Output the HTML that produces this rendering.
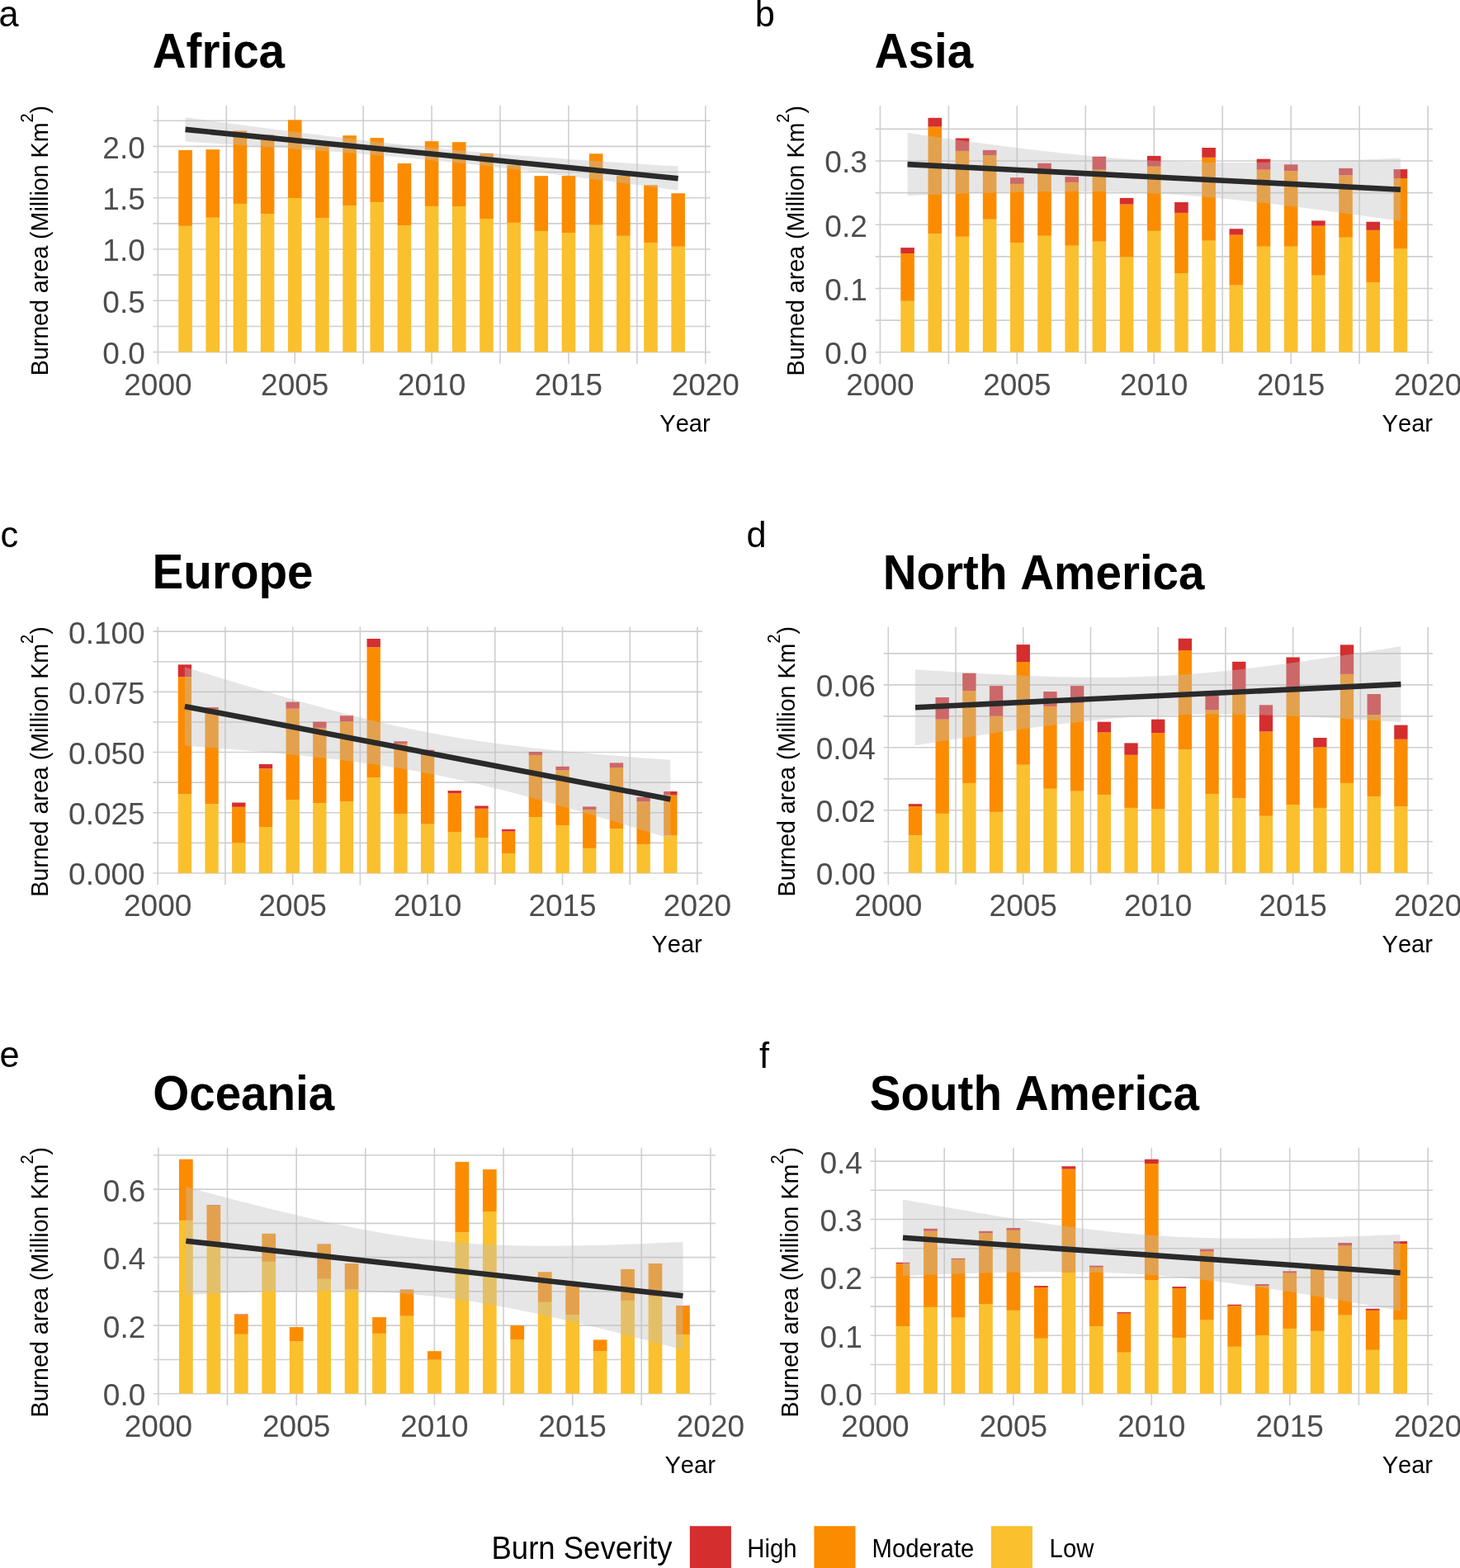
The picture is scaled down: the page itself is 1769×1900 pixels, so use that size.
<!DOCTYPE html>
<html><head><meta charset="utf-8"><title>Burned area by continent</title>
<style>html,body{margin:0;padding:0;background:#fff;} svg{display:block;} text{font-kerning:none;font-feature-settings:'kern' 0;}</style>
</head><body>
<svg width="1769" height="1900" viewBox="0 0 1769 1900" font-family="'Liberation Sans', Arial, sans-serif"><g stroke="#CFCFCF" stroke-width="1.6"><line x1="185.60" y1="395.45" x2="860.60" y2="395.45"/><line x1="185.60" y1="333.15" x2="860.60" y2="333.15"/><line x1="185.60" y1="270.85" x2="860.60" y2="270.85"/><line x1="185.60" y1="208.55" x2="860.60" y2="208.55"/><line x1="185.60" y1="146.25" x2="860.60" y2="146.25"/><line x1="185.60" y1="426.60" x2="860.60" y2="426.60"/><line x1="185.60" y1="364.30" x2="860.60" y2="364.30"/><line x1="185.60" y1="302.00" x2="860.60" y2="302.00"/><line x1="185.60" y1="239.70" x2="860.60" y2="239.70"/><line x1="185.60" y1="177.40" x2="860.60" y2="177.40"/><line x1="191.40" y1="128.10" x2="191.40" y2="440.81"/><line x1="274.33" y1="128.10" x2="274.33" y2="440.81"/><line x1="357.25" y1="128.10" x2="357.25" y2="440.81"/><line x1="440.18" y1="128.10" x2="440.18" y2="440.81"/><line x1="523.10" y1="128.10" x2="523.10" y2="440.81"/><line x1="606.02" y1="128.10" x2="606.02" y2="440.81"/><line x1="688.95" y1="128.10" x2="688.95" y2="440.81"/><line x1="771.88" y1="128.10" x2="771.88" y2="440.81"/><line x1="854.80" y1="128.10" x2="854.80" y2="440.81"/></g>
<g><rect x="216.28" y="273.84" width="16.59" height="152.76" fill="#FAC02E"/><rect x="216.28" y="181.89" width="16.59" height="91.95" fill="#FB8C00"/><rect x="249.45" y="263.75" width="16.59" height="162.85" fill="#FAC02E"/><rect x="249.45" y="181.14" width="16.59" height="82.61" fill="#FB8C00"/><rect x="282.62" y="246.93" width="16.59" height="179.67" fill="#FAC02E"/><rect x="282.62" y="158.46" width="16.59" height="88.47" fill="#FB8C00"/><rect x="315.79" y="259.26" width="16.59" height="167.34" fill="#FAC02E"/><rect x="315.79" y="163.20" width="16.59" height="96.07" fill="#FB8C00"/><rect x="348.96" y="239.95" width="16.59" height="186.65" fill="#FAC02E"/><rect x="348.96" y="145.38" width="16.59" height="94.57" fill="#FB8C00"/><rect x="382.13" y="264.12" width="16.59" height="162.48" fill="#FAC02E"/><rect x="382.13" y="177.40" width="16.59" height="86.72" fill="#FB8C00"/><rect x="415.30" y="249.17" width="16.59" height="177.43" fill="#FAC02E"/><rect x="415.30" y="164.19" width="16.59" height="84.98" fill="#FB8C00"/><rect x="448.47" y="244.93" width="16.59" height="181.67" fill="#FAC02E"/><rect x="448.47" y="167.06" width="16.59" height="77.88" fill="#FB8C00"/><rect x="481.64" y="273.22" width="16.59" height="153.38" fill="#FAC02E"/><rect x="481.64" y="197.96" width="16.59" height="75.26" fill="#FB8C00"/><rect x="514.81" y="249.92" width="16.59" height="176.68" fill="#FAC02E"/><rect x="514.81" y="171.17" width="16.59" height="78.75" fill="#FB8C00"/><rect x="547.98" y="250.04" width="16.59" height="176.56" fill="#FAC02E"/><rect x="547.98" y="172.17" width="16.59" height="77.87" fill="#FB8C00"/><rect x="581.15" y="264.99" width="16.59" height="161.61" fill="#FAC02E"/><rect x="581.15" y="185.87" width="16.59" height="79.12" fill="#FB8C00"/><rect x="614.32" y="269.85" width="16.59" height="156.75" fill="#FAC02E"/><rect x="614.32" y="200.08" width="16.59" height="69.78" fill="#FB8C00"/><rect x="647.49" y="279.95" width="16.59" height="146.65" fill="#FAC02E"/><rect x="647.49" y="213.16" width="16.59" height="66.79" fill="#FB8C00"/><rect x="680.66" y="282.19" width="16.59" height="144.41" fill="#FAC02E"/><rect x="680.66" y="213.04" width="16.59" height="69.15" fill="#FB8C00"/><rect x="713.83" y="272.72" width="16.59" height="153.88" fill="#FAC02E"/><rect x="713.83" y="186.25" width="16.59" height="86.47" fill="#FB8C00"/><rect x="747.00" y="285.80" width="16.59" height="140.80" fill="#FAC02E"/><rect x="747.00" y="213.04" width="16.59" height="72.77" fill="#FB8C00"/><rect x="780.17" y="294.15" width="16.59" height="132.45" fill="#FAC02E"/><rect x="780.17" y="224.25" width="16.59" height="69.90" fill="#FB8C00"/><rect x="813.34" y="298.76" width="16.59" height="127.84" fill="#FAC02E"/><rect x="813.34" y="234.22" width="16.59" height="64.54" fill="#FB8C00"/></g>
<path d="M224.57,142.30 L232.03,143.31 L239.50,144.31 L246.96,145.31 L254.42,146.31 L261.89,147.31 L269.35,148.31 L276.81,149.30 L284.28,150.29 L291.74,151.28 L299.20,152.27 L306.67,153.25 L314.13,154.23 L321.59,155.20 L329.06,156.17 L336.52,157.14 L343.98,158.10 L351.45,159.06 L358.91,160.01 L366.37,160.96 L373.84,161.90 L381.30,162.84 L388.76,163.77 L396.22,164.69 L403.69,165.61 L411.15,166.52 L418.61,167.42 L426.08,168.31 L433.54,169.19 L441.00,170.07 L448.47,170.93 L455.93,171.79 L463.39,172.63 L470.86,173.46 L478.32,174.29 L485.78,175.10 L493.25,175.89 L500.71,176.68 L508.17,177.45 L515.64,178.21 L523.10,178.96 L530.56,179.69 L538.03,180.42 L545.49,181.13 L552.95,181.82 L560.42,182.51 L567.88,183.18 L575.34,183.84 L582.81,184.49 L590.27,185.13 L597.73,185.76 L605.20,186.37 L612.66,186.98 L620.12,187.58 L627.59,188.17 L635.05,188.75 L642.51,189.33 L649.98,189.89 L657.44,190.45 L664.90,191.01 L672.37,191.55 L679.83,192.09 L687.29,192.63 L694.75,193.16 L702.22,193.68 L709.68,194.20 L717.14,194.72 L724.61,195.23 L732.07,195.74 L739.53,196.24 L747.00,196.74 L754.46,197.24 L761.92,197.73 L769.39,198.23 L776.85,198.71 L784.31,199.20 L791.78,199.68 L799.24,200.17 L806.70,200.65 L814.17,201.12 L821.63,201.60 L821.63,230.80 L814.17,229.79 L806.70,228.79 L799.24,227.79 L791.78,226.79 L784.31,225.79 L776.85,224.79 L769.39,223.80 L761.92,222.81 L754.46,221.82 L747.00,220.83 L739.53,219.85 L732.07,218.87 L724.61,217.90 L717.14,216.93 L709.68,215.96 L702.22,215.00 L694.75,214.04 L687.29,213.09 L679.83,212.14 L672.37,211.20 L664.90,210.26 L657.44,209.33 L649.98,208.41 L642.51,207.49 L635.05,206.58 L627.59,205.68 L620.12,204.79 L612.66,203.91 L605.20,203.03 L597.73,202.17 L590.27,201.31 L582.81,200.47 L575.34,199.64 L567.88,198.81 L560.42,198.00 L552.95,197.21 L545.49,196.42 L538.03,195.65 L530.56,194.89 L523.10,194.14 L515.64,193.41 L508.17,192.68 L500.71,191.97 L493.25,191.28 L485.78,190.59 L478.32,189.92 L470.86,189.26 L463.39,188.61 L455.93,187.97 L448.47,187.34 L441.00,186.73 L433.54,186.12 L426.08,185.52 L418.61,184.93 L411.15,184.35 L403.69,183.77 L396.22,183.21 L388.76,182.65 L381.30,182.09 L373.84,181.55 L366.37,181.01 L358.91,180.47 L351.45,179.94 L343.98,179.42 L336.52,178.90 L329.06,178.38 L321.59,177.87 L314.13,177.36 L306.67,176.86 L299.20,176.36 L291.74,175.86 L284.28,175.37 L276.81,174.87 L269.35,174.39 L261.89,173.90 L254.42,173.42 L246.96,172.93 L239.50,172.45 L232.03,171.98 L224.57,171.50 Z" fill="#C1C1C1" fill-opacity="0.4"/>
<line x1="224.57" y1="156.90" x2="821.63" y2="216.20" stroke="#2A2A2A" stroke-width="6.6"/>
<g fill="#4D4D4D"><text transform="translate(175.80,441.05) scale(1,1.012)" font-size="37.0" text-anchor="end">0.0</text><text transform="translate(175.80,378.75) scale(1,1.012)" font-size="37.0" text-anchor="end">0.5</text><text transform="translate(175.80,316.45) scale(1,1.012)" font-size="37.0" text-anchor="end">1.0</text><text transform="translate(175.80,254.15) scale(1,1.012)" font-size="37.0" text-anchor="end">1.5</text><text transform="translate(175.80,191.85) scale(1,1.012)" font-size="37.0" text-anchor="end">2.0</text><text transform="translate(191.40,478.91) scale(1,1.012)" font-size="37.0" text-anchor="middle">2000</text><text transform="translate(357.25,478.91) scale(1,1.012)" font-size="37.0" text-anchor="middle">2005</text><text transform="translate(523.10,478.91) scale(1,1.012)" font-size="37.0" text-anchor="middle">2010</text><text transform="translate(688.95,478.91) scale(1,1.012)" font-size="37.0" text-anchor="middle">2015</text><text transform="translate(854.80,478.91) scale(1,1.012)" font-size="37.0" text-anchor="middle">2020</text></g>
<text transform="translate(860.70,522.71) scale(1,1.03)" font-size="29.1" text-anchor="end">Year</text>
<text transform="translate(58.00,455.31) rotate(-90) scale(1,1.06)" font-size="28.6">Burned area (Million Km<tspan font-size="20" dy="-17">2</tspan><tspan dy="17">)</tspan></text>
<text transform="translate(184.70,81.90) scale(1,1.035)" font-size="56.6" font-weight="bold">Africa</text>
<text transform="translate(-1.40,32.30) scale(1,1.03)" font-size="43.3">a</text>
<g stroke="#CFCFCF" stroke-width="1.6"><line x1="1060.59" y1="388.08" x2="1735.91" y2="388.08"/><line x1="1060.59" y1="310.86" x2="1735.91" y2="310.86"/><line x1="1060.59" y1="233.62" x2="1735.91" y2="233.62"/><line x1="1060.59" y1="156.40" x2="1735.91" y2="156.40"/><line x1="1060.59" y1="426.70" x2="1735.91" y2="426.70"/><line x1="1060.59" y1="349.47" x2="1735.91" y2="349.47"/><line x1="1060.59" y1="272.24" x2="1735.91" y2="272.24"/><line x1="1060.59" y1="195.01" x2="1735.91" y2="195.01"/><line x1="1066.40" y1="128.30" x2="1066.40" y2="440.91"/><line x1="1149.36" y1="128.30" x2="1149.36" y2="440.91"/><line x1="1232.33" y1="128.30" x2="1232.33" y2="440.91"/><line x1="1315.29" y1="128.30" x2="1315.29" y2="440.91"/><line x1="1398.25" y1="128.30" x2="1398.25" y2="440.91"/><line x1="1481.21" y1="128.30" x2="1481.21" y2="440.91"/><line x1="1564.18" y1="128.30" x2="1564.18" y2="440.91"/><line x1="1647.14" y1="128.30" x2="1647.14" y2="440.91"/><line x1="1730.10" y1="128.30" x2="1730.10" y2="440.91"/></g>
<g><rect x="1091.29" y="364.76" width="16.59" height="61.94" fill="#FAC02E"/><rect x="1091.29" y="306.99" width="16.59" height="57.77" fill="#FB8C00"/><rect x="1091.29" y="300.12" width="16.59" height="6.87" fill="#D42E2F"/><rect x="1124.47" y="283.21" width="16.59" height="143.49" fill="#FAC02E"/><rect x="1124.47" y="153.61" width="16.59" height="129.59" fill="#FB8C00"/><rect x="1124.47" y="142.80" width="16.59" height="10.81" fill="#D42E2F"/><rect x="1157.66" y="286.84" width="16.59" height="139.86" fill="#FAC02E"/><rect x="1157.66" y="182.88" width="16.59" height="103.95" fill="#FB8C00"/><rect x="1157.66" y="167.52" width="16.59" height="15.37" fill="#D42E2F"/><rect x="1190.84" y="265.75" width="16.59" height="160.95" fill="#FAC02E"/><rect x="1190.84" y="188.29" width="16.59" height="77.46" fill="#FB8C00"/><rect x="1190.84" y="181.88" width="16.59" height="6.41" fill="#D42E2F"/><rect x="1224.03" y="294.10" width="16.59" height="132.60" fill="#FAC02E"/><rect x="1224.03" y="222.89" width="16.59" height="71.21" fill="#FB8C00"/><rect x="1224.03" y="215.17" width="16.59" height="7.72" fill="#D42E2F"/><rect x="1257.21" y="285.76" width="16.59" height="140.94" fill="#FAC02E"/><rect x="1257.21" y="205.05" width="16.59" height="80.71" fill="#FB8C00"/><rect x="1257.21" y="197.79" width="16.59" height="7.26" fill="#D42E2F"/><rect x="1290.40" y="297.73" width="16.59" height="128.97" fill="#FAC02E"/><rect x="1290.40" y="220.88" width="16.59" height="76.84" fill="#FB8C00"/><rect x="1290.40" y="214.16" width="16.59" height="6.72" fill="#D42E2F"/><rect x="1323.58" y="292.71" width="16.59" height="133.99" fill="#FAC02E"/><rect x="1323.58" y="205.67" width="16.59" height="87.04" fill="#FB8C00"/><rect x="1323.58" y="189.76" width="16.59" height="15.91" fill="#D42E2F"/><rect x="1356.77" y="311.47" width="16.59" height="115.23" fill="#FAC02E"/><rect x="1356.77" y="247.60" width="16.59" height="63.87" fill="#FB8C00"/><rect x="1356.77" y="239.88" width="16.59" height="7.72" fill="#D42E2F"/><rect x="1389.95" y="279.89" width="16.59" height="146.81" fill="#FAC02E"/><rect x="1389.95" y="201.73" width="16.59" height="78.16" fill="#FB8C00"/><rect x="1389.95" y="188.91" width="16.59" height="12.82" fill="#D42E2F"/><rect x="1423.14" y="331.09" width="16.59" height="95.61" fill="#FAC02E"/><rect x="1423.14" y="257.88" width="16.59" height="73.21" fill="#FB8C00"/><rect x="1423.14" y="245.06" width="16.59" height="12.82" fill="#D42E2F"/><rect x="1456.32" y="291.70" width="16.59" height="135.00" fill="#FAC02E"/><rect x="1456.32" y="190.84" width="16.59" height="100.86" fill="#FB8C00"/><rect x="1456.32" y="179.02" width="16.59" height="11.82" fill="#D42E2F"/><rect x="1489.51" y="345.61" width="16.59" height="81.09" fill="#FAC02E"/><rect x="1489.51" y="284.60" width="16.59" height="61.01" fill="#FB8C00"/><rect x="1489.51" y="277.26" width="16.59" height="7.34" fill="#D42E2F"/><rect x="1522.69" y="298.73" width="16.59" height="127.97" fill="#FAC02E"/><rect x="1522.69" y="205.67" width="16.59" height="93.06" fill="#FB8C00"/><rect x="1522.69" y="192.62" width="16.59" height="13.05" fill="#D42E2F"/><rect x="1555.88" y="298.73" width="16.59" height="127.97" fill="#FAC02E"/><rect x="1555.88" y="207.29" width="16.59" height="91.44" fill="#FB8C00"/><rect x="1555.88" y="199.33" width="16.59" height="7.95" fill="#D42E2F"/><rect x="1589.06" y="333.72" width="16.59" height="92.98" fill="#FAC02E"/><rect x="1589.06" y="273.71" width="16.59" height="60.01" fill="#FB8C00"/><rect x="1589.06" y="267.37" width="16.59" height="6.33" fill="#D42E2F"/><rect x="1622.25" y="287.76" width="16.59" height="138.94" fill="#FAC02E"/><rect x="1622.25" y="212.39" width="16.59" height="75.38" fill="#FB8C00"/><rect x="1622.25" y="203.89" width="16.59" height="8.50" fill="#D42E2F"/><rect x="1655.43" y="341.98" width="16.59" height="84.72" fill="#FAC02E"/><rect x="1655.43" y="278.88" width="16.59" height="63.10" fill="#FB8C00"/><rect x="1655.43" y="268.76" width="16.59" height="10.12" fill="#D42E2F"/><rect x="1688.62" y="301.59" width="16.59" height="125.11" fill="#FAC02E"/><rect x="1688.62" y="216.02" width="16.59" height="85.57" fill="#FB8C00"/><rect x="1688.62" y="205.13" width="16.59" height="10.89" fill="#D42E2F"/></g>
<path d="M1099.59,161.00 L1107.05,162.08 L1114.52,163.15 L1121.98,164.21 L1129.45,165.27 L1136.92,166.33 L1144.38,167.38 L1151.85,168.42 L1159.32,169.46 L1166.78,170.48 L1174.25,171.50 L1181.72,172.51 L1189.18,173.52 L1196.65,174.51 L1204.12,175.49 L1211.58,176.46 L1219.05,177.43 L1226.52,178.37 L1233.98,179.31 L1241.45,180.23 L1248.92,181.14 L1256.38,182.03 L1263.85,182.91 L1271.32,183.77 L1278.78,184.61 L1286.25,185.43 L1293.72,186.23 L1301.18,187.01 L1308.65,187.76 L1316.12,188.49 L1323.58,189.20 L1331.05,189.88 L1338.52,190.53 L1345.98,191.15 L1353.45,191.75 L1360.92,192.31 L1368.38,192.84 L1375.85,193.34 L1383.32,193.81 L1390.78,194.24 L1398.25,194.64 L1405.72,195.01 L1413.18,195.34 L1420.65,195.64 L1428.12,195.91 L1435.58,196.15 L1443.05,196.35 L1450.52,196.53 L1457.98,196.67 L1465.45,196.79 L1472.92,196.87 L1480.38,196.94 L1487.85,196.97 L1495.32,196.98 L1502.78,196.97 L1510.25,196.94 L1517.72,196.89 L1525.18,196.81 L1532.65,196.72 L1540.12,196.62 L1547.58,196.49 L1555.05,196.35 L1562.52,196.19 L1569.98,196.03 L1577.45,195.85 L1584.92,195.65 L1592.38,195.45 L1599.85,195.23 L1607.32,195.01 L1614.78,194.77 L1622.25,194.53 L1629.72,194.28 L1637.18,194.02 L1644.65,193.75 L1652.12,193.47 L1659.58,193.19 L1667.05,192.90 L1674.52,192.61 L1681.98,192.31 L1689.45,192.01 L1696.92,191.70 L1696.92,267.90 L1689.45,266.82 L1681.98,265.75 L1674.52,264.69 L1667.05,263.63 L1659.58,262.57 L1652.12,261.52 L1644.65,260.48 L1637.18,259.44 L1629.72,258.42 L1622.25,257.40 L1614.78,256.39 L1607.32,255.38 L1599.85,254.39 L1592.38,253.41 L1584.92,252.44 L1577.45,251.47 L1569.98,250.53 L1562.52,249.59 L1555.05,248.67 L1547.58,247.76 L1540.12,246.87 L1532.65,245.99 L1525.18,245.13 L1517.72,244.29 L1510.25,243.47 L1502.78,242.67 L1495.32,241.89 L1487.85,241.14 L1480.38,240.41 L1472.92,239.70 L1465.45,239.02 L1457.98,238.37 L1450.52,237.75 L1443.05,237.15 L1435.58,236.59 L1428.12,236.06 L1420.65,235.56 L1413.18,235.09 L1405.72,234.66 L1398.25,234.26 L1390.78,233.89 L1383.32,233.56 L1375.85,233.26 L1368.38,232.99 L1360.92,232.75 L1353.45,232.55 L1345.98,232.37 L1338.52,232.23 L1331.05,232.11 L1323.58,232.03 L1316.12,231.96 L1308.65,231.93 L1301.18,231.92 L1293.72,231.93 L1286.25,231.96 L1278.78,232.01 L1271.32,232.09 L1263.85,232.18 L1256.38,232.28 L1248.92,232.41 L1241.45,232.55 L1233.98,232.71 L1226.52,232.87 L1219.05,233.05 L1211.58,233.25 L1204.12,233.45 L1196.65,233.67 L1189.18,233.89 L1181.72,234.13 L1174.25,234.37 L1166.78,234.62 L1159.32,234.88 L1151.85,235.15 L1144.38,235.43 L1136.92,235.71 L1129.45,236.00 L1121.98,236.29 L1114.52,236.59 L1107.05,236.89 L1099.59,237.20 Z" fill="#C1C1C1" fill-opacity="0.4"/>
<line x1="1099.59" y1="199.10" x2="1696.92" y2="229.80" stroke="#2A2A2A" stroke-width="6.6"/>
<g fill="#4D4D4D"><text transform="translate(1050.79,441.15) scale(1,1.012)" font-size="37.0" text-anchor="end">0.0</text><text transform="translate(1050.79,363.92) scale(1,1.012)" font-size="37.0" text-anchor="end">0.1</text><text transform="translate(1050.79,286.69) scale(1,1.012)" font-size="37.0" text-anchor="end">0.2</text><text transform="translate(1050.79,209.46) scale(1,1.012)" font-size="37.0" text-anchor="end">0.3</text><text transform="translate(1066.40,479.01) scale(1,1.012)" font-size="37.0" text-anchor="middle">2000</text><text transform="translate(1232.33,479.01) scale(1,1.012)" font-size="37.0" text-anchor="middle">2005</text><text transform="translate(1398.25,479.01) scale(1,1.012)" font-size="37.0" text-anchor="middle">2010</text><text transform="translate(1564.18,479.01) scale(1,1.012)" font-size="37.0" text-anchor="middle">2015</text><text transform="translate(1730.10,479.01) scale(1,1.012)" font-size="37.0" text-anchor="middle">2020</text></g>
<text transform="translate(1736.01,522.81) scale(1,1.03)" font-size="29.1" text-anchor="end">Year</text>
<text transform="translate(974.00,455.41) rotate(-90) scale(1,1.06)" font-size="28.6">Burned area (Million Km<tspan font-size="20" dy="-17">2</tspan><tspan dy="17">)</tspan></text>
<text transform="translate(1059.69,82.10) scale(1,1.035)" font-size="56.6" font-weight="bold">Asia</text>
<text transform="translate(914.80,32.10) scale(1,1.03)" font-size="43.3">b</text>
<g stroke="#CFCFCF" stroke-width="1.6"><line x1="185.48" y1="1021.39" x2="850.72" y2="1021.39"/><line x1="185.48" y1="948.17" x2="850.72" y2="948.17"/><line x1="185.48" y1="874.95" x2="850.72" y2="874.95"/><line x1="185.48" y1="801.73" x2="850.72" y2="801.73"/><line x1="185.48" y1="1058.00" x2="850.72" y2="1058.00"/><line x1="185.48" y1="984.78" x2="850.72" y2="984.78"/><line x1="185.48" y1="911.56" x2="850.72" y2="911.56"/><line x1="185.48" y1="838.34" x2="850.72" y2="838.34"/><line x1="185.48" y1="765.12" x2="850.72" y2="765.12"/><line x1="191.20" y1="759.50" x2="191.20" y2="1072.21"/><line x1="272.92" y1="759.50" x2="272.92" y2="1072.21"/><line x1="354.65" y1="759.50" x2="354.65" y2="1072.21"/><line x1="436.38" y1="759.50" x2="436.38" y2="1072.21"/><line x1="518.10" y1="759.50" x2="518.10" y2="1072.21"/><line x1="599.83" y1="759.50" x2="599.83" y2="1072.21"/><line x1="681.55" y1="759.50" x2="681.55" y2="1072.21"/><line x1="763.27" y1="759.50" x2="763.27" y2="1072.21"/><line x1="845.00" y1="759.50" x2="845.00" y2="1072.21"/></g>
<g><rect x="215.72" y="962.40" width="16.34" height="95.60" fill="#FAC02E"/><rect x="215.72" y="820.09" width="16.34" height="142.31" fill="#FB8C00"/><rect x="215.72" y="805.30" width="16.34" height="14.79" fill="#D42E2F"/><rect x="248.41" y="974.09" width="16.34" height="83.91" fill="#FAC02E"/><rect x="248.41" y="859.13" width="16.34" height="114.96" fill="#FB8C00"/><rect x="248.41" y="857.08" width="16.34" height="2.05" fill="#D42E2F"/><rect x="281.10" y="1021.39" width="16.34" height="36.61" fill="#FAC02E"/><rect x="281.10" y="977.81" width="16.34" height="43.58" fill="#FB8C00"/><rect x="281.10" y="972.51" width="16.34" height="5.30" fill="#D42E2F"/><rect x="313.79" y="1002.00" width="16.34" height="56.00" fill="#FAC02E"/><rect x="313.79" y="931.30" width="16.34" height="70.70" fill="#FB8C00"/><rect x="313.79" y="926.00" width="16.34" height="5.30" fill="#D42E2F"/><rect x="346.48" y="969.29" width="16.34" height="88.71" fill="#FAC02E"/><rect x="346.48" y="858.70" width="16.34" height="110.59" fill="#FB8C00"/><rect x="346.48" y="850.61" width="16.34" height="8.08" fill="#D42E2F"/><rect x="379.17" y="973.09" width="16.34" height="84.91" fill="#FAC02E"/><rect x="379.17" y="881.89" width="16.34" height="91.20" fill="#FB8C00"/><rect x="379.17" y="874.60" width="16.34" height="7.29" fill="#D42E2F"/><rect x="411.86" y="971.31" width="16.34" height="86.69" fill="#FAC02E"/><rect x="411.86" y="874.39" width="16.34" height="96.91" fill="#FB8C00"/><rect x="411.86" y="867.19" width="16.34" height="7.20" fill="#D42E2F"/><rect x="444.55" y="942.20" width="16.34" height="115.80" fill="#FAC02E"/><rect x="444.55" y="784.30" width="16.34" height="157.89" fill="#FB8C00"/><rect x="444.55" y="773.99" width="16.34" height="10.31" fill="#D42E2F"/><rect x="477.24" y="986.39" width="16.34" height="71.61" fill="#FAC02E"/><rect x="477.24" y="901.10" width="16.34" height="85.29" fill="#FB8C00"/><rect x="477.24" y="898.29" width="16.34" height="2.81" fill="#D42E2F"/><rect x="509.93" y="998.60" width="16.34" height="59.40" fill="#FAC02E"/><rect x="509.93" y="910.21" width="16.34" height="88.39" fill="#FB8C00"/><rect x="509.93" y="908.63" width="16.34" height="1.58" fill="#D42E2F"/><rect x="542.62" y="1008.09" width="16.34" height="49.91" fill="#FAC02E"/><rect x="542.62" y="961.41" width="16.34" height="46.69" fill="#FB8C00"/><rect x="542.62" y="958.10" width="16.34" height="3.31" fill="#D42E2F"/><rect x="575.31" y="1015.01" width="16.34" height="42.99" fill="#FAC02E"/><rect x="575.31" y="979.80" width="16.34" height="35.20" fill="#FB8C00"/><rect x="575.31" y="976.49" width="16.34" height="3.31" fill="#D42E2F"/><rect x="608.00" y="1034.19" width="16.34" height="23.81" fill="#FAC02E"/><rect x="608.00" y="1007.51" width="16.34" height="26.68" fill="#FB8C00"/><rect x="608.00" y="1004.90" width="16.34" height="2.61" fill="#D42E2F"/><rect x="640.69" y="990.11" width="16.34" height="67.89" fill="#FAC02E"/><rect x="640.69" y="914.90" width="16.34" height="75.21" fill="#FB8C00"/><rect x="640.69" y="911.00" width="16.34" height="3.90" fill="#D42E2F"/><rect x="673.38" y="1000.21" width="16.34" height="57.79" fill="#FAC02E"/><rect x="673.38" y="933.29" width="16.34" height="66.92" fill="#FB8C00"/><rect x="673.38" y="928.81" width="16.34" height="4.48" fill="#D42E2F"/><rect x="706.07" y="1027.89" width="16.34" height="30.11" fill="#FAC02E"/><rect x="706.07" y="981.21" width="16.34" height="46.69" fill="#FB8C00"/><rect x="706.07" y="977.40" width="16.34" height="3.81" fill="#D42E2F"/><rect x="738.76" y="1004.20" width="16.34" height="53.80" fill="#FAC02E"/><rect x="738.76" y="930.01" width="16.34" height="74.19" fill="#FB8C00"/><rect x="738.76" y="924.39" width="16.34" height="5.62" fill="#D42E2F"/><rect x="771.45" y="1022.91" width="16.34" height="35.09" fill="#FAC02E"/><rect x="771.45" y="971.31" width="16.34" height="51.61" fill="#FB8C00"/><rect x="771.45" y="966.01" width="16.34" height="5.30" fill="#D42E2F"/><rect x="804.14" y="1012.52" width="16.34" height="45.48" fill="#FAC02E"/><rect x="804.14" y="963.60" width="16.34" height="48.91" fill="#FB8C00"/><rect x="804.14" y="959.01" width="16.34" height="4.60" fill="#D42E2F"/></g>
<path d="M223.89,808.20 L231.25,810.48 L238.60,812.75 L245.96,815.01 L253.31,817.27 L260.67,819.51 L268.02,821.76 L275.38,823.99 L282.73,826.21 L290.09,828.43 L297.44,830.63 L304.80,832.83 L312.15,835.01 L319.51,837.18 L326.86,839.34 L334.22,841.49 L341.57,843.62 L348.93,845.73 L356.28,847.83 L363.64,849.92 L371.00,851.98 L378.35,854.03 L385.71,856.05 L393.06,858.05 L400.42,860.04 L407.77,861.99 L415.13,863.92 L422.48,865.82 L429.84,867.70 L437.19,869.54 L444.55,871.35 L451.90,873.13 L459.26,874.88 L466.61,876.59 L473.97,878.26 L481.32,879.89 L488.68,881.48 L496.03,883.04 L503.39,884.55 L510.74,886.02 L518.10,887.45 L525.46,888.84 L532.81,890.19 L540.17,891.49 L547.52,892.75 L554.88,893.98 L562.23,895.16 L569.59,896.31 L576.94,897.42 L584.30,898.49 L591.65,899.53 L599.01,900.53 L606.36,901.51 L613.72,902.45 L621.07,903.37 L628.43,904.25 L635.78,905.12 L643.14,905.95 L650.49,906.77 L657.85,907.56 L665.20,908.33 L672.56,909.08 L679.92,909.82 L687.27,910.54 L694.63,911.24 L701.98,911.92 L709.34,912.59 L716.69,913.25 L724.05,913.90 L731.40,914.53 L738.76,915.16 L746.11,915.77 L753.47,916.37 L760.82,916.97 L768.18,917.55 L775.53,918.13 L782.89,918.70 L790.24,919.26 L797.60,919.81 L804.95,920.36 L812.31,920.90 L812.31,1016.30 L804.95,1014.02 L797.60,1011.75 L790.24,1009.49 L782.89,1007.23 L775.53,1004.99 L768.18,1002.74 L760.82,1000.51 L753.47,998.29 L746.11,996.07 L738.76,993.87 L731.40,991.67 L724.05,989.49 L716.69,987.32 L709.34,985.16 L701.98,983.01 L694.63,980.88 L687.27,978.77 L679.92,976.67 L672.56,974.58 L665.20,972.52 L657.85,970.47 L650.49,968.45 L643.14,966.45 L635.78,964.46 L628.43,962.51 L621.07,960.58 L613.72,958.68 L606.36,956.80 L599.01,954.96 L591.65,953.15 L584.30,951.37 L576.94,949.62 L569.59,947.91 L562.23,946.24 L554.88,944.61 L547.52,943.02 L540.17,941.46 L532.81,939.95 L525.46,938.48 L518.10,937.05 L510.74,935.66 L503.39,934.31 L496.03,933.01 L488.68,931.75 L481.32,930.52 L473.97,929.34 L466.61,928.19 L459.26,927.08 L451.90,926.01 L444.55,924.97 L437.19,923.97 L429.84,922.99 L422.48,922.05 L415.13,921.13 L407.77,920.25 L400.42,919.38 L393.06,918.55 L385.71,917.73 L378.35,916.94 L371.00,916.17 L363.64,915.42 L356.28,914.68 L348.93,913.96 L341.57,913.26 L334.22,912.58 L326.86,911.91 L319.51,911.25 L312.15,910.60 L304.80,909.97 L297.44,909.34 L290.09,908.73 L282.73,908.13 L275.38,907.53 L268.02,906.95 L260.67,906.37 L253.31,905.80 L245.96,905.24 L238.60,904.69 L231.25,904.14 L223.89,903.60 Z" fill="#C1C1C1" fill-opacity="0.4"/>
<line x1="223.89" y1="855.90" x2="812.31" y2="968.60" stroke="#2A2A2A" stroke-width="6.6"/>
<g fill="#4D4D4D"><text transform="translate(175.68,1072.45) scale(1,1.012)" font-size="37.0" text-anchor="end">0.000</text><text transform="translate(175.68,999.23) scale(1,1.012)" font-size="37.0" text-anchor="end">0.025</text><text transform="translate(175.68,926.01) scale(1,1.012)" font-size="37.0" text-anchor="end">0.050</text><text transform="translate(175.68,852.79) scale(1,1.012)" font-size="37.0" text-anchor="end">0.075</text><text transform="translate(175.68,779.57) scale(1,1.012)" font-size="37.0" text-anchor="end">0.100</text><text transform="translate(191.20,1110.31) scale(1,1.012)" font-size="37.0" text-anchor="middle">2000</text><text transform="translate(354.65,1110.31) scale(1,1.012)" font-size="37.0" text-anchor="middle">2005</text><text transform="translate(518.10,1110.31) scale(1,1.012)" font-size="37.0" text-anchor="middle">2010</text><text transform="translate(681.55,1110.31) scale(1,1.012)" font-size="37.0" text-anchor="middle">2015</text><text transform="translate(845.00,1110.31) scale(1,1.012)" font-size="37.0" text-anchor="middle">2020</text></g>
<text transform="translate(850.82,1154.11) scale(1,1.03)" font-size="29.1" text-anchor="end">Year</text>
<text transform="translate(58.00,1086.71) rotate(-90) scale(1,1.06)" font-size="28.6">Burned area (Million Km<tspan font-size="20" dy="-17">2</tspan><tspan dy="17">)</tspan></text>
<text transform="translate(184.58,713.30) scale(1,1.035)" font-size="56.6" font-weight="bold">Europe</text>
<text transform="translate(0.60,662.60) scale(1,1.03)" font-size="43.3">c</text>
<g stroke="#CFCFCF" stroke-width="1.6"><line x1="1070.58" y1="1019.73" x2="1735.82" y2="1019.73"/><line x1="1070.58" y1="943.79" x2="1735.82" y2="943.79"/><line x1="1070.58" y1="867.85" x2="1735.82" y2="867.85"/><line x1="1070.58" y1="791.91" x2="1735.82" y2="791.91"/><line x1="1070.58" y1="1057.70" x2="1735.82" y2="1057.70"/><line x1="1070.58" y1="981.76" x2="1735.82" y2="981.76"/><line x1="1070.58" y1="905.82" x2="1735.82" y2="905.82"/><line x1="1070.58" y1="829.88" x2="1735.82" y2="829.88"/><line x1="1076.30" y1="759.80" x2="1076.30" y2="1071.89"/><line x1="1158.02" y1="759.80" x2="1158.02" y2="1071.89"/><line x1="1239.75" y1="759.80" x2="1239.75" y2="1071.89"/><line x1="1321.47" y1="759.80" x2="1321.47" y2="1071.89"/><line x1="1403.20" y1="759.80" x2="1403.20" y2="1071.89"/><line x1="1484.92" y1="759.80" x2="1484.92" y2="1071.89"/><line x1="1566.65" y1="759.80" x2="1566.65" y2="1071.89"/><line x1="1648.38" y1="759.80" x2="1648.38" y2="1071.89"/><line x1="1730.10" y1="759.80" x2="1730.10" y2="1071.89"/></g>
<g><rect x="1100.82" y="1012.21" width="16.34" height="45.49" fill="#FAC02E"/><rect x="1100.82" y="977.01" width="16.34" height="35.20" fill="#FB8C00"/><rect x="1100.82" y="974.20" width="16.34" height="2.81" fill="#D42E2F"/><rect x="1133.51" y="985.90" width="16.34" height="71.80" fill="#FAC02E"/><rect x="1133.51" y="871.68" width="16.34" height="114.21" fill="#FB8C00"/><rect x="1133.51" y="844.99" width="16.34" height="26.69" fill="#D42E2F"/><rect x="1166.20" y="948.92" width="16.34" height="108.78" fill="#FAC02E"/><rect x="1166.20" y="837.09" width="16.34" height="111.82" fill="#FB8C00"/><rect x="1166.20" y="815.72" width="16.34" height="21.38" fill="#D42E2F"/><rect x="1198.89" y="983.89" width="16.34" height="73.81" fill="#FAC02E"/><rect x="1198.89" y="867.70" width="16.34" height="116.19" fill="#FB8C00"/><rect x="1198.89" y="831.10" width="16.34" height="36.60" fill="#D42E2F"/><rect x="1231.58" y="926.70" width="16.34" height="131.00" fill="#FAC02E"/><rect x="1231.58" y="802.01" width="16.34" height="124.69" fill="#FB8C00"/><rect x="1231.58" y="781.09" width="16.34" height="20.92" fill="#D42E2F"/><rect x="1264.27" y="955.79" width="16.34" height="101.91" fill="#FAC02E"/><rect x="1264.27" y="855.89" width="16.34" height="99.90" fill="#FB8C00"/><rect x="1264.27" y="838.01" width="16.34" height="17.88" fill="#D42E2F"/><rect x="1296.96" y="958.71" width="16.34" height="98.99" fill="#FAC02E"/><rect x="1296.96" y="851.90" width="16.34" height="106.81" fill="#FB8C00"/><rect x="1296.96" y="831.10" width="16.34" height="20.81" fill="#D42E2F"/><rect x="1329.65" y="963.12" width="16.34" height="94.58" fill="#FAC02E"/><rect x="1329.65" y="887.48" width="16.34" height="75.64" fill="#FB8C00"/><rect x="1329.65" y="874.68" width="16.34" height="12.80" fill="#D42E2F"/><rect x="1362.34" y="978.91" width="16.34" height="78.79" fill="#FAC02E"/><rect x="1362.34" y="914.78" width="16.34" height="64.13" fill="#FB8C00"/><rect x="1362.34" y="900.39" width="16.34" height="14.39" fill="#D42E2F"/><rect x="1395.03" y="980.51" width="16.34" height="77.19" fill="#FAC02E"/><rect x="1395.03" y="888.09" width="16.34" height="92.42" fill="#FB8C00"/><rect x="1395.03" y="871.68" width="16.34" height="16.40" fill="#D42E2F"/><rect x="1427.72" y="908.29" width="16.34" height="149.41" fill="#FAC02E"/><rect x="1427.72" y="788.00" width="16.34" height="120.29" fill="#FB8C00"/><rect x="1427.72" y="773.68" width="16.34" height="14.31" fill="#D42E2F"/><rect x="1460.41" y="962.09" width="16.34" height="95.61" fill="#FAC02E"/><rect x="1460.41" y="860.41" width="16.34" height="101.68" fill="#FB8C00"/><rect x="1460.41" y="842.98" width="16.34" height="17.43" fill="#D42E2F"/><rect x="1493.10" y="967.29" width="16.34" height="90.41" fill="#FAC02E"/><rect x="1493.10" y="837.47" width="16.34" height="129.82" fill="#FB8C00"/><rect x="1493.10" y="801.78" width="16.34" height="35.69" fill="#D42E2F"/><rect x="1525.79" y="988.78" width="16.34" height="68.92" fill="#FAC02E"/><rect x="1525.79" y="886.49" width="16.34" height="102.29" fill="#FB8C00"/><rect x="1525.79" y="854.29" width="16.34" height="32.20" fill="#D42E2F"/><rect x="1558.48" y="975.00" width="16.34" height="82.70" fill="#FAC02E"/><rect x="1558.48" y="833.68" width="16.34" height="141.32" fill="#FB8C00"/><rect x="1558.48" y="796.47" width="16.34" height="37.21" fill="#D42E2F"/><rect x="1591.17" y="978.91" width="16.34" height="78.79" fill="#FAC02E"/><rect x="1591.17" y="905.29" width="16.34" height="73.62" fill="#FB8C00"/><rect x="1591.17" y="894.01" width="16.34" height="11.28" fill="#D42E2F"/><rect x="1623.86" y="948.92" width="16.34" height="108.78" fill="#FAC02E"/><rect x="1623.86" y="816.89" width="16.34" height="132.02" fill="#FB8C00"/><rect x="1623.86" y="781.32" width="16.34" height="35.58" fill="#D42E2F"/><rect x="1656.55" y="965.09" width="16.34" height="92.61" fill="#FAC02E"/><rect x="1656.55" y="866.29" width="16.34" height="98.80" fill="#FB8C00"/><rect x="1656.55" y="841.01" width="16.34" height="25.29" fill="#D42E2F"/><rect x="1689.24" y="977.09" width="16.34" height="80.61" fill="#FAC02E"/><rect x="1689.24" y="895.80" width="16.34" height="81.29" fill="#FB8C00"/><rect x="1689.24" y="878.60" width="16.34" height="17.20" fill="#D42E2F"/></g>
<path d="M1108.99,811.20 L1116.35,811.69 L1123.70,812.16 L1131.06,812.64 L1138.41,813.10 L1145.77,813.56 L1153.12,814.01 L1160.48,814.46 L1167.83,814.89 L1175.19,815.32 L1182.54,815.73 L1189.90,816.14 L1197.25,816.54 L1204.61,816.92 L1211.96,817.29 L1219.32,817.65 L1226.67,818.00 L1234.03,818.33 L1241.38,818.64 L1248.74,818.94 L1256.10,819.22 L1263.45,819.49 L1270.81,819.73 L1278.16,819.95 L1285.52,820.15 L1292.87,820.33 L1300.23,820.48 L1307.58,820.61 L1314.94,820.70 L1322.29,820.77 L1329.65,820.81 L1337.00,820.81 L1344.36,820.79 L1351.71,820.73 L1359.07,820.63 L1366.42,820.49 L1373.78,820.32 L1381.13,820.11 L1388.49,819.86 L1395.84,819.57 L1403.20,819.24 L1410.56,818.86 L1417.91,818.45 L1425.27,818.00 L1432.62,817.51 L1439.98,816.98 L1447.33,816.41 L1454.69,815.81 L1462.04,815.17 L1469.40,814.49 L1476.75,813.78 L1484.11,813.04 L1491.46,812.27 L1498.82,811.47 L1506.17,810.65 L1513.53,809.79 L1520.88,808.91 L1528.24,808.01 L1535.59,807.09 L1542.95,806.14 L1550.30,805.17 L1557.66,804.19 L1565.02,803.19 L1572.37,802.17 L1579.73,801.14 L1587.08,800.09 L1594.44,799.03 L1601.79,797.95 L1609.15,796.87 L1616.50,795.77 L1623.86,794.66 L1631.21,793.54 L1638.57,792.41 L1645.92,791.27 L1653.28,790.13 L1660.63,788.97 L1667.99,787.81 L1675.34,786.64 L1682.70,785.47 L1690.05,784.29 L1697.41,783.10 L1697.41,875.10 L1690.05,874.61 L1682.70,874.14 L1675.34,873.66 L1667.99,873.20 L1660.63,872.74 L1653.28,872.29 L1645.92,871.84 L1638.57,871.41 L1631.21,870.98 L1623.86,870.57 L1616.50,870.16 L1609.15,869.76 L1601.79,869.38 L1594.44,869.01 L1587.08,868.65 L1579.73,868.30 L1572.37,867.97 L1565.02,867.66 L1557.66,867.36 L1550.30,867.08 L1542.95,866.81 L1535.59,866.57 L1528.24,866.35 L1520.88,866.15 L1513.53,865.97 L1506.17,865.82 L1498.82,865.69 L1491.46,865.60 L1484.11,865.53 L1476.75,865.49 L1469.40,865.49 L1462.04,865.51 L1454.69,865.57 L1447.33,865.67 L1439.98,865.81 L1432.62,865.98 L1425.27,866.19 L1417.91,866.44 L1410.56,866.73 L1403.20,867.06 L1395.84,867.44 L1388.49,867.85 L1381.13,868.30 L1373.78,868.79 L1366.42,869.32 L1359.07,869.89 L1351.71,870.49 L1344.36,871.13 L1337.00,871.81 L1329.65,872.52 L1322.29,873.26 L1314.94,874.03 L1307.58,874.83 L1300.23,875.65 L1292.87,876.51 L1285.52,877.39 L1278.16,878.29 L1270.81,879.21 L1263.45,880.16 L1256.10,881.13 L1248.74,882.11 L1241.38,883.11 L1234.03,884.13 L1226.67,885.16 L1219.32,886.21 L1211.96,887.27 L1204.61,888.35 L1197.25,889.43 L1189.90,890.53 L1182.54,891.64 L1175.19,892.76 L1167.83,893.89 L1160.48,895.03 L1153.12,896.17 L1145.77,897.33 L1138.41,898.49 L1131.06,899.66 L1123.70,900.83 L1116.35,902.01 L1108.99,903.20 Z" fill="#C1C1C1" fill-opacity="0.4"/>
<line x1="1108.99" y1="857.20" x2="1697.41" y2="829.10" stroke="#2A2A2A" stroke-width="6.6"/>
<g fill="#4D4D4D"><text transform="translate(1060.78,1072.15) scale(1,1.012)" font-size="37.0" text-anchor="end">0.00</text><text transform="translate(1060.78,996.21) scale(1,1.012)" font-size="37.0" text-anchor="end">0.02</text><text transform="translate(1060.78,920.27) scale(1,1.012)" font-size="37.0" text-anchor="end">0.04</text><text transform="translate(1060.78,844.33) scale(1,1.012)" font-size="37.0" text-anchor="end">0.06</text><text transform="translate(1076.30,1109.99) scale(1,1.012)" font-size="37.0" text-anchor="middle">2000</text><text transform="translate(1239.75,1109.99) scale(1,1.012)" font-size="37.0" text-anchor="middle">2005</text><text transform="translate(1403.20,1109.99) scale(1,1.012)" font-size="37.0" text-anchor="middle">2010</text><text transform="translate(1566.65,1109.99) scale(1,1.012)" font-size="37.0" text-anchor="middle">2015</text><text transform="translate(1730.10,1109.99) scale(1,1.012)" font-size="37.0" text-anchor="middle">2020</text></g>
<text transform="translate(1735.92,1153.79) scale(1,1.03)" font-size="29.1" text-anchor="end">Year</text>
<text transform="translate(963.00,1086.39) rotate(-90) scale(1,1.06)" font-size="28.6">Burned area (Million Km<tspan font-size="20" dy="-17">2</tspan><tspan dy="17">)</tspan></text>
<text transform="translate(1069.68,713.60) scale(1,1.035)" font-size="56.6" font-weight="bold">North America</text>
<text transform="translate(904.40,662.60) scale(1,1.03)" font-size="43.3">d</text>
<g stroke="#CFCFCF" stroke-width="1.6"><line x1="186.05" y1="1647.43" x2="866.75" y2="1647.43"/><line x1="186.05" y1="1564.89" x2="866.75" y2="1564.89"/><line x1="186.05" y1="1482.35" x2="866.75" y2="1482.35"/><line x1="186.05" y1="1399.81" x2="866.75" y2="1399.81"/><line x1="186.05" y1="1688.70" x2="866.75" y2="1688.70"/><line x1="186.05" y1="1606.16" x2="866.75" y2="1606.16"/><line x1="186.05" y1="1523.62" x2="866.75" y2="1523.62"/><line x1="186.05" y1="1441.08" x2="866.75" y2="1441.08"/><line x1="191.90" y1="1390.70" x2="191.90" y2="1702.89"/><line x1="275.52" y1="1390.70" x2="275.52" y2="1702.89"/><line x1="359.15" y1="1390.70" x2="359.15" y2="1702.89"/><line x1="442.78" y1="1390.70" x2="442.78" y2="1702.89"/><line x1="526.40" y1="1390.70" x2="526.40" y2="1702.89"/><line x1="610.03" y1="1390.70" x2="610.03" y2="1702.89"/><line x1="693.65" y1="1390.70" x2="693.65" y2="1702.89"/><line x1="777.27" y1="1390.70" x2="777.27" y2="1702.89"/><line x1="860.90" y1="1390.70" x2="860.90" y2="1702.89"/></g>
<g><rect x="216.99" y="1478.88" width="16.73" height="209.82" fill="#FAC02E"/><rect x="216.99" y="1404.68" width="16.73" height="74.20" fill="#FB8C00"/><rect x="250.44" y="1508.60" width="16.73" height="180.10" fill="#FAC02E"/><rect x="250.44" y="1460.68" width="16.73" height="47.91" fill="#FB8C00"/><rect x="250.44" y="1460.06" width="16.73" height="0.62" fill="#D42E2F"/><rect x="283.89" y="1616.81" width="16.73" height="71.89" fill="#FAC02E"/><rect x="283.89" y="1593.12" width="16.73" height="23.69" fill="#FB8C00"/><rect x="283.89" y="1592.54" width="16.73" height="0.58" fill="#D42E2F"/><rect x="317.34" y="1528.82" width="16.73" height="159.88" fill="#FAC02E"/><rect x="317.34" y="1494.81" width="16.73" height="34.01" fill="#FB8C00"/><rect x="350.79" y="1625.31" width="16.73" height="63.39" fill="#FAC02E"/><rect x="350.79" y="1608.10" width="16.73" height="17.21" fill="#FB8C00"/><rect x="384.24" y="1549.79" width="16.73" height="138.91" fill="#FAC02E"/><rect x="384.24" y="1507.98" width="16.73" height="41.81" fill="#FB8C00"/><rect x="384.24" y="1507.52" width="16.73" height="0.45" fill="#D42E2F"/><rect x="417.69" y="1562.41" width="16.73" height="126.29" fill="#FAC02E"/><rect x="417.69" y="1531.01" width="16.73" height="31.41" fill="#FB8C00"/><rect x="451.14" y="1615.90" width="16.73" height="72.80" fill="#FAC02E"/><rect x="451.14" y="1596.09" width="16.73" height="19.81" fill="#FB8C00"/><rect x="484.59" y="1594.69" width="16.73" height="94.01" fill="#FAC02E"/><rect x="484.59" y="1562.99" width="16.73" height="31.70" fill="#FB8C00"/><rect x="484.59" y="1562.62" width="16.73" height="0.37" fill="#D42E2F"/><rect x="518.04" y="1647.51" width="16.73" height="41.19" fill="#FAC02E"/><rect x="518.04" y="1637.20" width="16.73" height="10.32" fill="#FB8C00"/><rect x="551.49" y="1493.20" width="16.73" height="195.50" fill="#FAC02E"/><rect x="551.49" y="1407.90" width="16.73" height="85.31" fill="#FB8C00"/><rect x="584.94" y="1467.99" width="16.73" height="220.71" fill="#FAC02E"/><rect x="584.94" y="1417.02" width="16.73" height="50.97" fill="#FB8C00"/><rect x="618.39" y="1623.41" width="16.73" height="65.29" fill="#FAC02E"/><rect x="618.39" y="1606.20" width="16.73" height="17.21" fill="#FB8C00"/><rect x="651.84" y="1577.89" width="16.73" height="110.81" fill="#FAC02E"/><rect x="651.84" y="1541.28" width="16.73" height="36.61" fill="#FB8C00"/><rect x="685.29" y="1593.28" width="16.73" height="95.42" fill="#FAC02E"/><rect x="685.29" y="1554.57" width="16.73" height="38.71" fill="#FB8C00"/><rect x="718.74" y="1637.20" width="16.73" height="51.50" fill="#FAC02E"/><rect x="718.74" y="1623.41" width="16.73" height="13.78" fill="#FB8C00"/><rect x="752.19" y="1575.91" width="16.73" height="112.79" fill="#FAC02E"/><rect x="752.19" y="1537.90" width="16.73" height="38.01" fill="#FB8C00"/><rect x="785.64" y="1570.92" width="16.73" height="117.78" fill="#FAC02E"/><rect x="785.64" y="1531.01" width="16.73" height="39.91" fill="#FB8C00"/><rect x="819.09" y="1617.01" width="16.73" height="71.69" fill="#FAC02E"/><rect x="819.09" y="1582.80" width="16.73" height="34.21" fill="#FB8C00"/><rect x="819.09" y="1582.22" width="16.73" height="0.58" fill="#D42E2F"/></g>
<path d="M225.35,1438.30 L232.88,1440.32 L240.40,1442.33 L247.93,1444.34 L255.46,1446.33 L262.98,1448.32 L270.51,1450.29 L278.03,1452.25 L285.56,1454.20 L293.09,1456.14 L300.61,1458.07 L308.14,1459.98 L315.67,1461.87 L323.19,1463.75 L330.72,1465.61 L338.24,1467.45 L345.77,1469.27 L353.30,1471.08 L360.82,1472.86 L368.35,1474.61 L375.88,1476.35 L383.40,1478.05 L390.93,1479.73 L398.45,1481.38 L405.98,1482.99 L413.51,1484.58 L421.03,1486.12 L428.56,1487.63 L436.08,1489.10 L443.61,1490.53 L451.14,1491.92 L458.66,1493.26 L466.19,1494.55 L473.72,1495.79 L481.24,1496.99 L488.77,1498.13 L496.29,1499.21 L503.82,1500.25 L511.35,1501.22 L518.87,1502.14 L526.40,1503.00 L533.93,1503.80 L541.45,1504.55 L548.98,1505.24 L556.51,1505.87 L564.03,1506.45 L571.56,1506.98 L579.08,1507.45 L586.61,1507.87 L594.14,1508.24 L601.66,1508.57 L609.19,1508.85 L616.72,1509.08 L624.24,1509.28 L631.77,1509.43 L639.29,1509.55 L646.82,1509.63 L654.35,1509.68 L661.87,1509.70 L669.40,1509.69 L676.93,1509.65 L684.45,1509.58 L691.98,1509.49 L699.50,1509.37 L707.03,1509.23 L714.56,1509.08 L722.08,1508.90 L729.61,1508.70 L737.13,1508.49 L744.66,1508.26 L752.19,1508.02 L759.71,1507.76 L767.24,1507.48 L774.77,1507.20 L782.29,1506.90 L789.82,1506.59 L797.34,1506.27 L804.87,1505.94 L812.40,1505.60 L819.92,1505.26 L827.45,1504.90 L827.45,1635.70 L819.92,1633.68 L812.40,1631.67 L804.87,1629.66 L797.34,1627.67 L789.82,1625.68 L782.29,1623.71 L774.77,1621.75 L767.24,1619.80 L759.71,1617.86 L752.19,1615.93 L744.66,1614.02 L737.13,1612.13 L729.61,1610.25 L722.08,1608.39 L714.56,1606.55 L707.03,1604.73 L699.50,1602.92 L691.98,1601.14 L684.45,1599.39 L676.93,1597.65 L669.40,1595.95 L661.87,1594.27 L654.35,1592.62 L646.82,1591.01 L639.29,1589.42 L631.77,1587.88 L624.24,1586.37 L616.72,1584.90 L609.19,1583.47 L601.66,1582.08 L594.14,1580.74 L586.61,1579.45 L579.08,1578.21 L571.56,1577.01 L564.03,1575.87 L556.51,1574.79 L548.98,1573.75 L541.45,1572.78 L533.93,1571.86 L526.40,1571.00 L518.87,1570.20 L511.35,1569.45 L503.82,1568.76 L496.29,1568.13 L488.77,1567.55 L481.24,1567.02 L473.72,1566.55 L466.19,1566.13 L458.66,1565.76 L451.14,1565.43 L443.61,1565.15 L436.08,1564.92 L428.56,1564.72 L421.03,1564.57 L413.51,1564.45 L405.98,1564.37 L398.45,1564.32 L390.93,1564.30 L383.40,1564.31 L375.88,1564.35 L368.35,1564.42 L360.82,1564.51 L353.30,1564.63 L345.77,1564.77 L338.24,1564.92 L330.72,1565.10 L323.19,1565.30 L315.67,1565.51 L308.14,1565.74 L300.61,1565.98 L293.09,1566.24 L285.56,1566.52 L278.03,1566.80 L270.51,1567.10 L262.98,1567.41 L255.46,1567.73 L247.93,1568.06 L240.40,1568.40 L232.88,1568.74 L225.35,1569.10 Z" fill="#C1C1C1" fill-opacity="0.4"/>
<line x1="225.35" y1="1503.70" x2="827.45" y2="1570.30" stroke="#2A2A2A" stroke-width="6.6"/>
<g fill="#4D4D4D"><text transform="translate(176.25,1703.15) scale(1,1.012)" font-size="37.0" text-anchor="end">0.0</text><text transform="translate(176.25,1620.61) scale(1,1.012)" font-size="37.0" text-anchor="end">0.2</text><text transform="translate(176.25,1538.07) scale(1,1.012)" font-size="37.0" text-anchor="end">0.4</text><text transform="translate(176.25,1455.53) scale(1,1.012)" font-size="37.0" text-anchor="end">0.6</text><text transform="translate(191.90,1740.99) scale(1,1.012)" font-size="37.0" text-anchor="middle">2000</text><text transform="translate(359.15,1740.99) scale(1,1.012)" font-size="37.0" text-anchor="middle">2005</text><text transform="translate(526.40,1740.99) scale(1,1.012)" font-size="37.0" text-anchor="middle">2010</text><text transform="translate(693.65,1740.99) scale(1,1.012)" font-size="37.0" text-anchor="middle">2015</text><text transform="translate(860.90,1740.99) scale(1,1.012)" font-size="37.0" text-anchor="middle">2020</text></g>
<text transform="translate(866.85,1784.79) scale(1,1.03)" font-size="29.1" text-anchor="end">Year</text>
<text transform="translate(58.00,1717.39) rotate(-90) scale(1,1.06)" font-size="28.6">Burned area (Million Km<tspan font-size="20" dy="-17">2</tspan><tspan dy="17">)</tspan></text>
<text transform="translate(185.15,1344.50) scale(1,1.035)" font-size="56.6" font-weight="bold">Oceania</text>
<text transform="translate(-0.40,1293.40) scale(1,1.03)" font-size="43.3">e</text>
<g stroke="#CFCFCF" stroke-width="1.6"><line x1="1054.64" y1="1653.50" x2="1735.96" y2="1653.50"/><line x1="1054.64" y1="1583.10" x2="1735.96" y2="1583.10"/><line x1="1054.64" y1="1512.70" x2="1735.96" y2="1512.70"/><line x1="1054.64" y1="1442.30" x2="1735.96" y2="1442.30"/><line x1="1054.64" y1="1688.70" x2="1735.96" y2="1688.70"/><line x1="1054.64" y1="1618.30" x2="1735.96" y2="1618.30"/><line x1="1054.64" y1="1547.90" x2="1735.96" y2="1547.90"/><line x1="1054.64" y1="1477.50" x2="1735.96" y2="1477.50"/><line x1="1054.64" y1="1407.10" x2="1735.96" y2="1407.10"/><line x1="1060.50" y1="1390.70" x2="1060.50" y2="1702.89"/><line x1="1144.20" y1="1390.70" x2="1144.20" y2="1702.89"/><line x1="1227.90" y1="1390.70" x2="1227.90" y2="1702.89"/><line x1="1311.60" y1="1390.70" x2="1311.60" y2="1702.89"/><line x1="1395.30" y1="1390.70" x2="1395.30" y2="1702.89"/><line x1="1479.00" y1="1390.70" x2="1479.00" y2="1702.89"/><line x1="1562.70" y1="1390.70" x2="1562.70" y2="1702.89"/><line x1="1646.40" y1="1390.70" x2="1646.40" y2="1702.89"/><line x1="1730.10" y1="1390.70" x2="1730.10" y2="1702.89"/></g>
<g><rect x="1085.61" y="1607.11" width="16.74" height="81.59" fill="#FAC02E"/><rect x="1085.61" y="1531.43" width="16.74" height="75.68" fill="#FB8C00"/><rect x="1085.61" y="1529.81" width="16.74" height="1.62" fill="#D42E2F"/><rect x="1119.09" y="1583.80" width="16.74" height="104.90" fill="#FAC02E"/><rect x="1119.09" y="1491.79" width="16.74" height="92.01" fill="#FB8C00"/><rect x="1119.09" y="1488.76" width="16.74" height="3.03" fill="#D42E2F"/><rect x="1152.57" y="1596.69" width="16.74" height="92.01" fill="#FAC02E"/><rect x="1152.57" y="1526.43" width="16.74" height="70.26" fill="#FB8C00"/><rect x="1152.57" y="1524.81" width="16.74" height="1.62" fill="#D42E2F"/><rect x="1186.05" y="1580.21" width="16.74" height="108.49" fill="#FAC02E"/><rect x="1186.05" y="1494.40" width="16.74" height="85.82" fill="#FB8C00"/><rect x="1186.05" y="1491.79" width="16.74" height="2.60" fill="#D42E2F"/><rect x="1219.53" y="1587.82" width="16.74" height="100.88" fill="#FAC02E"/><rect x="1219.53" y="1490.81" width="16.74" height="97.01" fill="#FB8C00"/><rect x="1219.53" y="1487.99" width="16.74" height="2.82" fill="#D42E2F"/><rect x="1253.01" y="1621.82" width="16.74" height="66.88" fill="#FAC02E"/><rect x="1253.01" y="1560.08" width="16.74" height="61.74" fill="#FB8C00"/><rect x="1253.01" y="1558.11" width="16.74" height="1.97" fill="#D42E2F"/><rect x="1286.49" y="1541.92" width="16.74" height="146.78" fill="#FAC02E"/><rect x="1286.49" y="1416.60" width="16.74" height="125.31" fill="#FB8C00"/><rect x="1286.49" y="1413.22" width="16.74" height="3.38" fill="#D42E2F"/><rect x="1319.97" y="1607.11" width="16.74" height="81.59" fill="#FAC02E"/><rect x="1319.97" y="1535.72" width="16.74" height="71.39" fill="#FB8C00"/><rect x="1319.97" y="1533.68" width="16.74" height="2.04" fill="#D42E2F"/><rect x="1353.45" y="1638.79" width="16.74" height="49.91" fill="#FAC02E"/><rect x="1353.45" y="1591.69" width="16.74" height="47.10" fill="#FB8C00"/><rect x="1353.45" y="1590.07" width="16.74" height="1.62" fill="#D42E2F"/><rect x="1386.93" y="1551.21" width="16.74" height="137.49" fill="#FAC02E"/><rect x="1386.93" y="1410.06" width="16.74" height="141.15" fill="#FB8C00"/><rect x="1386.93" y="1404.71" width="16.74" height="5.35" fill="#D42E2F"/><rect x="1420.41" y="1620.98" width="16.74" height="67.72" fill="#FAC02E"/><rect x="1420.41" y="1560.99" width="16.74" height="59.98" fill="#FB8C00"/><rect x="1420.41" y="1559.09" width="16.74" height="1.90" fill="#D42E2F"/><rect x="1453.89" y="1599.57" width="16.74" height="89.13" fill="#FAC02E"/><rect x="1453.89" y="1516.50" width="16.74" height="83.07" fill="#FB8C00"/><rect x="1453.89" y="1513.62" width="16.74" height="2.89" fill="#D42E2F"/><rect x="1487.37" y="1631.89" width="16.74" height="56.81" fill="#FAC02E"/><rect x="1487.37" y="1582.18" width="16.74" height="49.70" fill="#FB8C00"/><rect x="1487.37" y="1580.78" width="16.74" height="1.41" fill="#D42E2F"/><rect x="1520.85" y="1618.02" width="16.74" height="70.68" fill="#FAC02E"/><rect x="1520.85" y="1558.11" width="16.74" height="59.91" fill="#FB8C00"/><rect x="1520.85" y="1556.07" width="16.74" height="2.04" fill="#D42E2F"/><rect x="1554.33" y="1609.92" width="16.74" height="78.78" fill="#FAC02E"/><rect x="1554.33" y="1542.62" width="16.74" height="67.30" fill="#FB8C00"/><rect x="1554.33" y="1540.30" width="16.74" height="2.32" fill="#D42E2F"/><rect x="1587.81" y="1612.88" width="16.74" height="75.82" fill="#FAC02E"/><rect x="1587.81" y="1538.04" width="16.74" height="74.84" fill="#FB8C00"/><rect x="1587.81" y="1536.28" width="16.74" height="1.76" fill="#D42E2F"/><rect x="1621.29" y="1593.73" width="16.74" height="94.97" fill="#FAC02E"/><rect x="1621.29" y="1509.60" width="16.74" height="84.13" fill="#FB8C00"/><rect x="1621.29" y="1506.01" width="16.74" height="3.59" fill="#D42E2F"/><rect x="1654.77" y="1635.83" width="16.74" height="52.87" fill="#FAC02E"/><rect x="1654.77" y="1587.82" width="16.74" height="48.01" fill="#FB8C00"/><rect x="1654.77" y="1585.78" width="16.74" height="2.04" fill="#D42E2F"/><rect x="1688.25" y="1599.01" width="16.74" height="89.69" fill="#FAC02E"/><rect x="1688.25" y="1507.21" width="16.74" height="91.80" fill="#FB8C00"/><rect x="1688.25" y="1504.11" width="16.74" height="3.10" fill="#D42E2F"/></g>
<path d="M1093.98,1453.40 L1101.51,1454.77 L1109.05,1456.14 L1116.58,1457.50 L1124.11,1458.85 L1131.64,1460.20 L1139.18,1461.54 L1146.71,1462.87 L1154.24,1464.19 L1161.78,1465.51 L1169.31,1466.81 L1176.84,1468.11 L1184.38,1469.39 L1191.91,1470.66 L1199.44,1471.92 L1206.97,1473.17 L1214.51,1474.40 L1222.04,1475.62 L1229.57,1476.82 L1237.11,1478.00 L1244.64,1479.17 L1252.17,1480.32 L1259.71,1481.45 L1267.24,1482.56 L1274.77,1483.65 L1282.31,1484.71 L1289.84,1485.75 L1297.37,1486.76 L1304.90,1487.74 L1312.44,1488.69 L1319.97,1489.62 L1327.50,1490.51 L1335.04,1491.36 L1342.57,1492.19 L1350.10,1492.97 L1357.63,1493.72 L1365.17,1494.43 L1372.70,1495.10 L1380.23,1495.74 L1387.77,1496.33 L1395.30,1496.88 L1402.83,1497.39 L1410.37,1497.86 L1417.90,1498.29 L1425.43,1498.68 L1432.96,1499.03 L1440.50,1499.35 L1448.03,1499.62 L1455.56,1499.86 L1463.10,1500.07 L1470.63,1500.24 L1478.16,1500.38 L1485.70,1500.49 L1493.23,1500.57 L1500.76,1500.62 L1508.30,1500.65 L1515.83,1500.65 L1523.36,1500.62 L1530.89,1500.58 L1538.43,1500.51 L1545.96,1500.42 L1553.49,1500.32 L1561.03,1500.19 L1568.56,1500.05 L1576.09,1499.90 L1583.62,1499.73 L1591.16,1499.54 L1598.69,1499.35 L1606.22,1499.14 L1613.76,1498.92 L1621.29,1498.69 L1628.82,1498.45 L1636.36,1498.19 L1643.89,1497.93 L1651.42,1497.67 L1658.95,1497.39 L1666.49,1497.10 L1674.02,1496.81 L1681.55,1496.51 L1689.09,1496.21 L1696.62,1495.90 L1696.62,1588.50 L1689.09,1587.13 L1681.55,1585.76 L1674.02,1584.40 L1666.49,1583.05 L1658.95,1581.70 L1651.42,1580.36 L1643.89,1579.03 L1636.36,1577.71 L1628.82,1576.39 L1621.29,1575.09 L1613.76,1573.79 L1606.22,1572.51 L1598.69,1571.24 L1591.16,1569.98 L1583.62,1568.73 L1576.09,1567.50 L1568.56,1566.28 L1561.03,1565.08 L1553.49,1563.90 L1545.96,1562.73 L1538.43,1561.58 L1530.89,1560.45 L1523.36,1559.34 L1515.83,1558.25 L1508.30,1557.19 L1500.76,1556.15 L1493.23,1555.14 L1485.70,1554.16 L1478.16,1553.21 L1470.63,1552.28 L1463.10,1551.39 L1455.56,1550.54 L1448.03,1549.71 L1440.50,1548.93 L1432.96,1548.18 L1425.43,1547.47 L1417.90,1546.80 L1410.37,1546.16 L1402.83,1545.57 L1395.30,1545.02 L1387.77,1544.51 L1380.23,1544.04 L1372.70,1543.61 L1365.17,1543.22 L1357.63,1542.87 L1350.10,1542.55 L1342.57,1542.28 L1335.04,1542.04 L1327.50,1541.83 L1319.97,1541.66 L1312.44,1541.52 L1304.90,1541.41 L1297.37,1541.33 L1289.84,1541.28 L1282.31,1541.25 L1274.77,1541.25 L1267.24,1541.28 L1259.71,1541.32 L1252.17,1541.39 L1244.64,1541.48 L1237.11,1541.58 L1229.57,1541.71 L1222.04,1541.85 L1214.51,1542.00 L1206.97,1542.17 L1199.44,1542.36 L1191.91,1542.55 L1184.38,1542.76 L1176.84,1542.98 L1169.31,1543.21 L1161.78,1543.45 L1154.24,1543.71 L1146.71,1543.97 L1139.18,1544.23 L1131.64,1544.51 L1124.11,1544.80 L1116.58,1545.09 L1109.05,1545.39 L1101.51,1545.69 L1093.98,1546.00 Z" fill="#C1C1C1" fill-opacity="0.4"/>
<line x1="1093.98" y1="1499.70" x2="1696.62" y2="1542.20" stroke="#2A2A2A" stroke-width="6.6"/>
<g fill="#4D4D4D"><text transform="translate(1044.84,1703.15) scale(1,1.012)" font-size="37.0" text-anchor="end">0.0</text><text transform="translate(1044.84,1632.75) scale(1,1.012)" font-size="37.0" text-anchor="end">0.1</text><text transform="translate(1044.84,1562.35) scale(1,1.012)" font-size="37.0" text-anchor="end">0.2</text><text transform="translate(1044.84,1491.95) scale(1,1.012)" font-size="37.0" text-anchor="end">0.3</text><text transform="translate(1044.84,1421.55) scale(1,1.012)" font-size="37.0" text-anchor="end">0.4</text><text transform="translate(1060.50,1740.99) scale(1,1.012)" font-size="37.0" text-anchor="middle">2000</text><text transform="translate(1227.90,1740.99) scale(1,1.012)" font-size="37.0" text-anchor="middle">2005</text><text transform="translate(1395.30,1740.99) scale(1,1.012)" font-size="37.0" text-anchor="middle">2010</text><text transform="translate(1562.70,1740.99) scale(1,1.012)" font-size="37.0" text-anchor="middle">2015</text><text transform="translate(1730.10,1740.99) scale(1,1.012)" font-size="37.0" text-anchor="middle">2020</text></g>
<text transform="translate(1736.06,1784.79) scale(1,1.03)" font-size="29.1" text-anchor="end">Year</text>
<text transform="translate(967.10,1717.39) rotate(-90) scale(1,1.06)" font-size="28.6">Burned area (Million Km<tspan font-size="20" dy="-17">2</tspan><tspan dy="17">)</tspan></text>
<text transform="translate(1053.74,1344.50) scale(1,1.035)" font-size="56.6" font-weight="bold">South America</text>
<text transform="translate(920.00,1293.60) scale(1,1.03)" font-size="43.3">f</text>
<text transform="translate(595.50,1888.90) scale(1,1.045)" font-size="36.5">Burn Severity</text>
<rect x="835.8" y="1849.2" width="50.1" height="52" fill="#D42E2F"/>
<text transform="translate(905.30,1887.00) scale(1,1.045)" font-size="29.3">High</text>
<rect x="986.4" y="1849.2" width="50.1" height="52" fill="#FB8C00"/>
<text transform="translate(1056.60,1887.00) scale(1,1.045)" font-size="29.3">Moderate</text>
<rect x="1200.85" y="1849.2" width="50.1" height="52" fill="#FAC02E"/>
<text transform="translate(1271.60,1887.00) scale(1,1.045)" font-size="29.3">Low</text></svg>
</body></html>
